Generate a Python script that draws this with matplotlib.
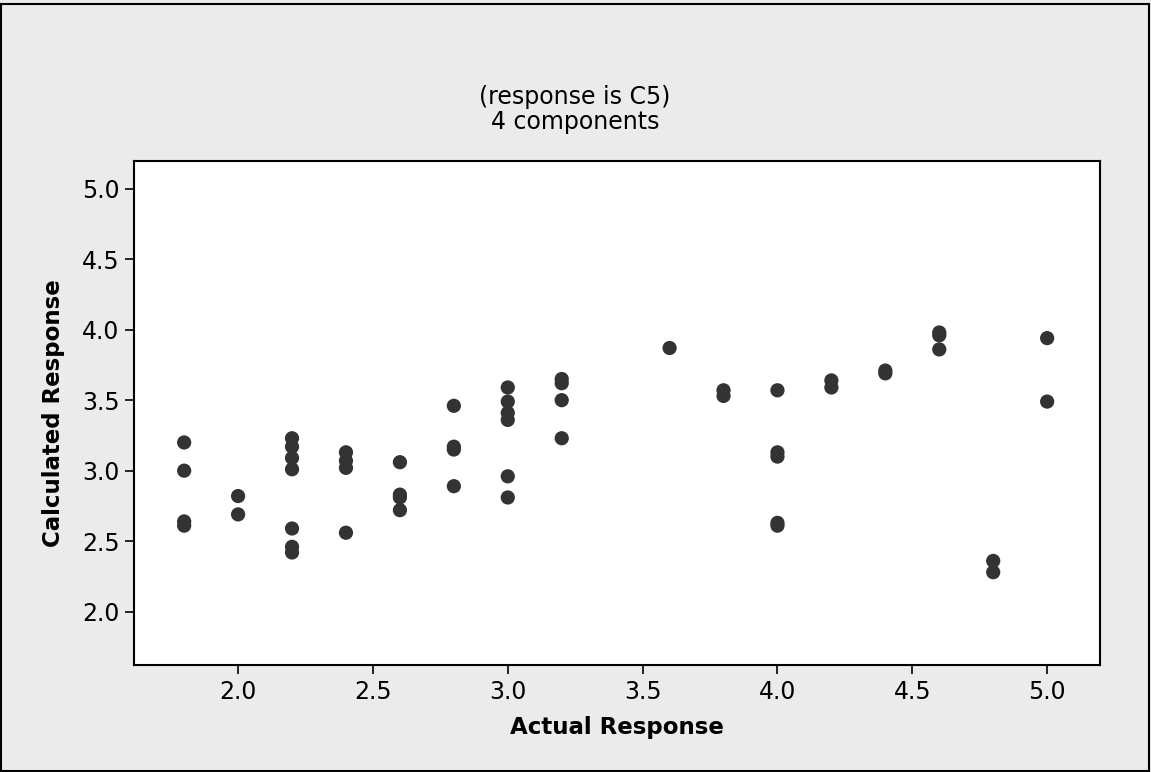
import numpy as np
import matplotlib
matplotlib.use("Agg")
import matplotlib.pyplot as plt
from matplotlib.patches import Rectangle

# actual response (x) and calculated response (y)
actual = [1.8, 1.8, 1.8, 1.8,
          2.0, 2.0,
          2.2, 2.2, 2.2, 2.2, 2.2, 2.2, 2.2,
          2.4, 2.4, 2.4, 2.4,
          2.6, 2.6, 2.6, 2.6,
          2.8, 2.8, 2.8, 2.8,
          3.0, 3.0, 3.0, 3.0, 3.0, 3.0,
          3.2, 3.2, 3.2, 3.2,
          3.6,
          3.8, 3.8,
          4.0, 4.0, 4.0, 4.0, 4.0,
          4.2, 4.2,
          4.4, 4.4,
          4.6, 4.6, 4.6,
          4.8, 4.8,
          5.0, 5.0]
calculated = [3.20, 3.00, 2.64, 2.61,
              2.82, 2.69,
              3.23, 3.17, 3.09, 3.01, 2.59, 2.46, 2.42,
              3.13, 3.07, 3.02, 2.56,
              3.06, 2.83, 2.81, 2.72,
              3.46, 3.17, 3.15, 2.89,
              3.59, 3.49, 3.41, 3.36, 2.96, 2.81,
              3.65, 3.62, 3.50, 3.23,
              3.87,
              3.57, 3.53,
              3.57, 3.13, 3.10, 2.63, 2.61,
              3.64, 3.59,
              3.71, 3.69,
              3.98, 3.96, 3.86,
              2.36, 2.28,
              3.94, 3.49]

x_ticks = [2.0, 2.5, 3.0, 3.5, 4.0, 4.5, 5.0]
y_ticks = [2.0, 2.5, 3.0, 3.5, 4.0, 4.5, 5.0]

plt.rcParams["font.family"] = ["DejaVu Sans"]

W, H = 1151, 772
fig = plt.figure(figsize=(W/100, H/100), dpi=100, facecolor="#ebebeb")
fig.patches.append(Rectangle((1/W, 1/H), 1 - 3/W, 1 - 5/H, transform=fig.transFigure,
                             fill=False, edgecolor="black", linewidth=1.5))

# axes box in pixels: left 134, right 1100, top 161, bottom 665
ax = fig.add_axes([134/W, 1 - 665/H, (1100-134)/W, (665-161)/H])
ax.set_facecolor("white")
ax.scatter(actual, calculated, s=105, color="#333333", edgecolors="none", zorder=3)

ax.set_xlim(1.614, 5.196)
ax.set_ylim(1.622, 5.196)
ax.set_xticks(x_ticks)
ax.set_yticks(y_ticks)
ax.set_xticklabels(["%.1f" % v for v in x_ticks])
ax.set_yticklabels(["%.1f" % v for v in y_ticks])
ax.tick_params(direction="out", length=6.5, width=1.2, labelsize=17, colors="black", pad=4)
for sp in ax.spines.values():
    sp.set_linewidth(1.5)

ax.set_xlabel("Actual Response", fontsize=16.5, fontweight="bold", labelpad=9)
ax.set_ylabel("Calculated Response", fontsize=16.5, fontweight="bold", labelpad=12)

fig.text(575/W, 1 - 97/H, "(response is C5)", ha="center", va="center", fontsize=17)
fig.text(575/W, 1 - 122/H, "4 components", ha="center", va="center", fontsize=17)

fig.savefig("out.png", dpi=100, facecolor=fig.get_facecolor())
